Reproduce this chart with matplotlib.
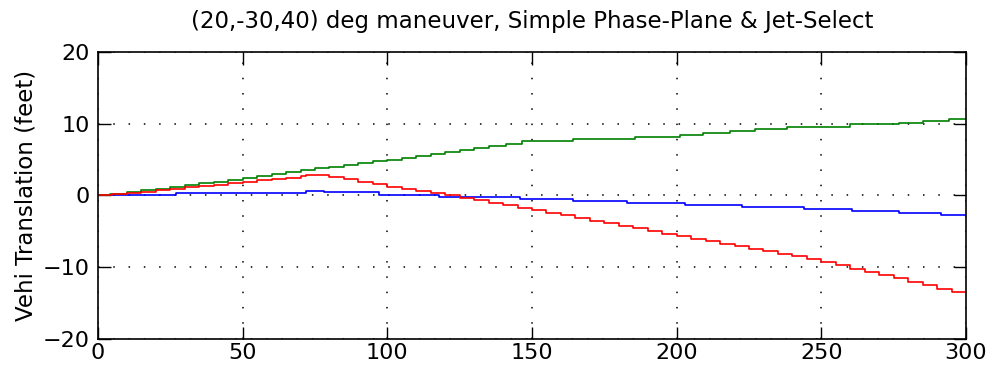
import matplotlib
matplotlib.use("Agg")
import matplotlib.pyplot as plt

# breakpoints of the step (zero-order hold) traces, time in seconds
t_x = [0, 27, 72, 78, 97, 118, 146, 164, 183, 203, 222.5, 244, 260.5, 277, 291.5, 300]
x_ft = [0, 0.3, 0.63, 0.44, 0.07, -0.16, -0.49, -0.77, -1.07, -1.37, -1.65, -1.93, -2.2, -2.44, -2.72, -2.72]

t_y = [0, 4, 10, 15, 20, 25, 30, 35, 40, 45, 50, 55, 60, 65, 70, 75, 80, 85, 90, 95,
       100, 105, 110, 115, 120, 125, 130, 135, 141, 146.5, 164, 185.6, 201, 209, 218.5,
       227, 238, 260, 277, 285, 294, 300]
y_ft = [0, 0.2, 0.45, 0.7, 0.95, 1.2, 1.45, 1.7, 1.95, 2.2, 2.5, 2.75, 3.0, 3.25, 3.5, 3.8,
        4.0, 4.25, 4.5, 4.75, 5.0, 5.25, 5.5, 5.75, 6.0, 6.3, 6.6, 6.85, 7.2, 7.55, 7.87,
        8.15, 8.5, 8.75, 9.0, 9.27, 9.55, 9.9, 10.15, 10.4, 10.65, 10.65]

t_z = [0, 5, 10, 15, 20, 25, 30, 35, 40, 45, 50, 55, 60, 65, 70, 72, 80, 85, 90, 95,
       100, 105, 110, 115, 120, 125, 130, 135, 140, 145, 150, 155, 160, 165, 170, 175,
       180, 185, 190, 195, 200, 205, 210, 215, 220, 225, 230, 235, 240, 245, 250, 255,
       260, 265, 270, 275, 280, 285, 290, 295, 300]
z_ft = [0, 0.15, 0.35, 0.55, 0.75, 0.95, 1.15, 1.35, 1.5, 1.7, 1.9, 2.1, 2.3, 2.5, 2.7,
        2.85, 2.55, 2.25, 1.95, 1.6, 1.25, 0.95, 0.65, 0.35, 0.05, -0.3, -0.65, -1.0,
        -1.35, -1.7, -2.05, -2.4, -2.75, -3.1, -3.5, -3.85, -4.2, -4.55, -4.95, -5.3,
        -5.65, -6.0, -6.35, -6.7, -7.05, -7.45, -7.8, -8.15, -8.5, -8.9, -9.3, -9.75,
        -10.2, -10.65, -11.1, -11.55, -12.0, -12.5, -13.0, -13.5, -13.5]

xticks = [0, 50, 100, 150, 200, 250, 300]
yticks = [-20, -10, 0, 10, 20]

plt.rcParams['font.family'] = ['DejaVu Sans']

fig = plt.figure(figsize=(9.92, 3.76), dpi=100)
ax = fig.add_axes([98 / 992, 37 / 376, 868 / 992, 287 / 376])

lw = 1.2
ax.plot(t_x, x_ft, drawstyle='steps-post', color=(0, 0, 1), lw=lw)
ax.plot(t_y, y_ft, drawstyle='steps-post', color=(0, 0.5, 0), lw=lw)
ax.plot(t_z, z_ft, drawstyle='steps-post', color=(1, 0, 0), lw=lw)

ax.set_xlim(0, 300)
ax.set_ylim(-20, 20)
ax.set_xticks(xticks)
ax.set_yticks(yticks)
ax.tick_params(direction='in', length=9, width=1, top=True, right=True,
               labelsize=16, colors='black')
ax.tick_params(axis='y', pad=6)
ax.tick_params(axis='x', pad=3)
ax.grid(True, color='black', linestyle=(0, (1, 9)), linewidth=1.1)
for s in ax.spines.values():
    s.set_linewidth(1.2)

ax.set_title('(20,-30,40) deg maneuver, Simple Phase-Plane & Jet-Select',
             fontsize=16.5, pad=17)
ax.set_ylabel('Vehi Translation (feet)', fontsize=16.5, labelpad=4)

fig.savefig('out.png', dpi=100)
